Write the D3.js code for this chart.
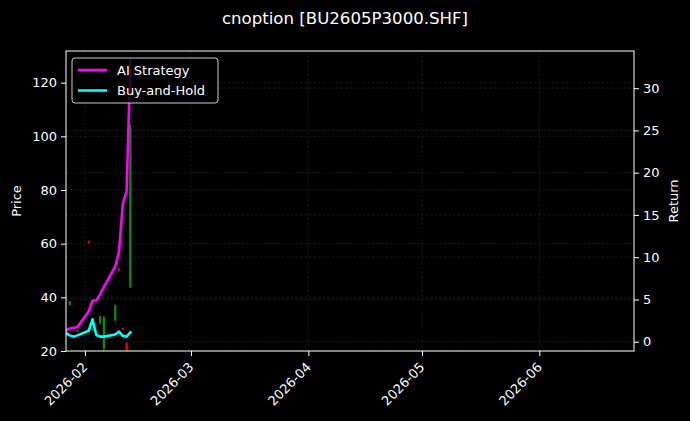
<!DOCTYPE html>
<html>
<head>
<meta charset="utf-8">
<script src="https://cdn.jsdelivr.net/npm/d3@7"></script>
<style>
  html, body { margin: 0; padding: 0; background: #000; }
  svg { display: block; font-family: "DejaVu Sans", sans-serif; }
</style>
</head>
<body>
<svg id="chart" width="690" height="421"></svg>
<script>
// trading days shown on the chart
const dates = ["2026-01-27", "2026-01-28", "2026-01-29", "2026-01-30", "2026-02-02", "2026-02-03",
  "2026-02-04", "2026-02-05", "2026-02-06", "2026-02-09", "2026-02-10", "2026-02-11",
  "2026-02-12", "2026-02-13"];

// candles (price axis)
const open  = [27.0, 37.2, 25.0, 27.5, 61.0, 28.0, 27.0, 30.5, 21.0, 31.5, 50.6, 28.5, 23.0, 44.0];
const high  = [27.6, 38.6, 26.0, 28.0, 61.2, 28.6, 27.4, 33.0, 33.0, 37.3, 50.8, 28.8, 23.2, 104.3];
const low   = [26.6, 37.0, 24.8, 27.0, 60.2, 27.6, 26.6, 30.0, 18.0, 31.0, 49.8, 27.8, 18.0, 43.5];
const close = [27.3, 38.5, 25.8, 27.8, 60.4, 28.3, 26.8, 32.8, 32.5, 37.0, 50.0, 28.0, 19.0, 104.0];

// return curves (right axis)
const aiStrategy = [1.4, 1.55, 1.65, 1.75, 3.6, 4.85, 4.9, 5.6, 6.5, 8.9, 10.7, 16.3, 17.8, 33.3];
const buyHold    = [1.0, 0.75, 0.6, 0.75, 1.3, 2.65, 0.8, 0.6, 0.6, 0.85, 1.2, 0.7, 0.6, 1.1];

const xDomain = ["2026-01-27", "2026-06-26"];
const priceTicks = [20, 40, 60, 80, 100, 120];
const returnTicks = [0, 5, 10, 15, 20, 25, 30];
const monthTicks = ["2026-02-01", "2026-03-01", "2026-04-01", "2026-05-01", "2026-06-01"];

const parse = d3.utcParse("%Y-%m-%d");
const svg = d3.select("#chart");
const W = 690, H = 421;
const M = { left: 66, right: 634, top: 51, bottom: 351 };

svg.append("rect").attr("width", W).attr("height", H).attr("fill", "#000");

const x = d3.scaleUtc().domain(xDomain.map(parse)).range([M.left, M.right]);
const yP = d3.scaleLinear().domain([20, 131.8]).range([M.bottom, M.top]);
const yR = d3.scaleLinear().domain([-1.1, 34.4]).range([M.bottom, M.top]);

svg.append("clipPath").attr("id", "plot")
  .append("rect").attr("x", M.left).attr("y", M.top)
  .attr("width", M.right - M.left).attr("height", M.bottom - M.top);

// grid
const grid = svg.append("g").attr("stroke", "#7a7a7a").attr("stroke-opacity", 0.35)
  .attr("stroke-width", 0.6).attr("stroke-dasharray", "2.5,2");
monthTicks.forEach(t => grid.append("line")
  .attr("x1", x(parse(t))).attr("x2", x(parse(t))).attr("y1", M.top).attr("y2", M.bottom));
priceTicks.forEach(t => grid.append("line")
  .attr("x1", M.left).attr("x2", M.right).attr("y1", yP(t)).attr("y2", yP(t)));
returnTicks.forEach(t => grid.append("line")
  .attr("x1", M.left).attr("x2", M.right).attr("y1", yR(t)).attr("y2", yR(t)));

// candles
const candles = dates.map((d, i) => ({ date: parse(d), o: open[i], h: high[i], l: low[i], c: close[i] }));
const cg = svg.append("g").attr("clip-path", "url(#plot)");
cg.selectAll("line").data(candles).join("line")
  .attr("x1", d => x(d.date)).attr("x2", d => x(d.date))
  .attr("y1", d => yP(d.h)).attr("y2", d => yP(d.l))
  .attr("stroke", d => d.c >= d.o ? "#0f8a0f" : "#ff0000")
  .attr("stroke-width", 1.2);
cg.selectAll("rect").data(candles).join("rect")
  .attr("x", d => x(d.date) - 1.1).attr("width", 2.2)
  .attr("y", d => yP(Math.max(d.o, d.c)))
  .attr("height", d => Math.max(1, Math.abs(yP(d.o) - yP(d.c))))
  .attr("fill", d => d.c >= d.o ? "#0f8a0f" : "#ff0000");

// return lines
const line = vals => d3.line()
  .x((_, i) => x(parse(dates[i])))
  .y(v => yR(v))(vals);
const lg = svg.append("g").attr("clip-path", "url(#plot)").attr("fill", "none")
  .attr("stroke-width", 2.6).attr("stroke-linejoin", "round").attr("stroke-linecap", "square");
lg.append("path").attr("d", line(aiStrategy)).attr("stroke", "#ff00ff");
lg.append("path").attr("d", line(buyHold)).attr("stroke", "#00ffff");

// frame
svg.append("rect").attr("x", M.left).attr("y", M.top)
  .attr("width", M.right - M.left).attr("height", M.bottom - M.top)
  .attr("fill", "none").attr("stroke", "#fff").attr("stroke-width", 1);

// axes
const styleAxis = g => {
  g.select(".domain").remove();
  g.selectAll(".tick line").attr("stroke", "#fff");
  g.selectAll(".tick text").attr("fill", "#fff").attr("font-size", 13)
    .attr("font-family", "DejaVu Sans, sans-serif");
};
svg.append("g").attr("transform", `translate(${M.left},0)`)
  .call(d3.axisLeft(yP).tickValues(priceTicks).tickSize(5).tickPadding(4))
  .call(styleAxis);
svg.append("g").attr("transform", `translate(${M.right},0)`)
  .call(d3.axisRight(yR).tickValues(returnTicks).tickSize(5).tickPadding(4))
  .call(styleAxis);
const xa = svg.append("g").attr("transform", `translate(0,${M.bottom})`)
  .call(d3.axisBottom(x).tickValues(monthTicks.map(parse)).tickFormat(d3.utcFormat("%Y-%m"))
    .tickSize(5).tickPadding(4))
  .call(styleAxis);
xa.selectAll(".tick text")
  .attr("text-anchor", "end").attr("dy", null).attr("y", 0)
  .attr("transform", "translate(3,17) rotate(-45)");

// labels
svg.append("text").attr("x", W / 2).attr("y", 24).attr("text-anchor", "middle")
  .attr("fill", "#fff").attr("font-size", 16.6).text("cnoption [BU2605P3000.SHF]");
svg.append("text").attr("transform", `translate(21,${(M.top + M.bottom) / 2}) rotate(-90)`)
  .attr("text-anchor", "middle").attr("fill", "#fff").attr("font-size", 13).text("Price");
svg.append("text").attr("transform", `translate(678,${(M.top + M.bottom) / 2}) rotate(-90)`)
  .attr("text-anchor", "middle").attr("fill", "#fff").attr("font-size", 13).text("Return");

// legend
const legend = svg.append("g");
legend.append("rect").attr("x", 72).attr("y", 58).attr("width", 146).attr("height", 45).attr("rx", 3)
  .attr("fill", "#000").attr("fill-opacity", 0.8).attr("stroke", "#ccc").attr("stroke-width", 1);
[["AI Strategy", "#ff00ff"], ["Buy-and-Hold", "#00ffff"]].forEach(([name, color], i) => {
  const yy = 70 + i * 20.5;
  legend.append("line").attr("x1", 78).attr("x2", 107).attr("y1", yy).attr("y2", yy)
    .attr("stroke", color).attr("stroke-width", 2.6);
  legend.append("text").attr("x", 117).attr("y", yy + 4.6).attr("fill", "#fff")
    .attr("font-size", 13).text(name);
});
</script>
</body>
</html>
